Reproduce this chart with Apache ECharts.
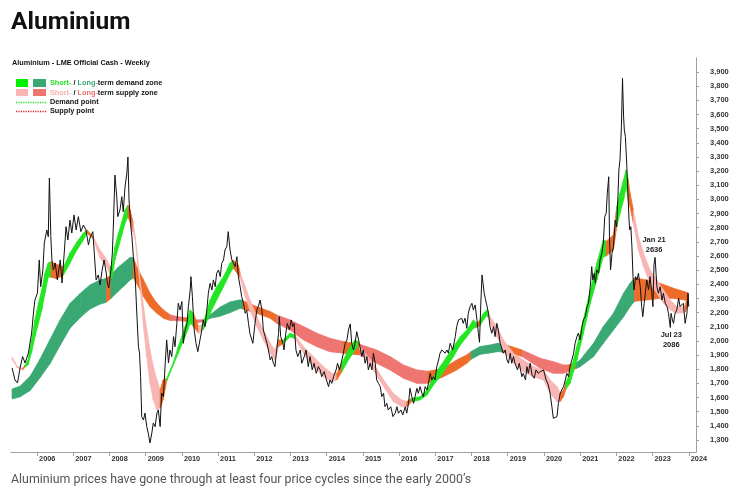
<!DOCTYPE html>
<html>
<head>
<meta charset="utf-8">
<script src="https://cdn.jsdelivr.net/npm/echarts@6.0.0/dist/echarts.min.js"></script>
<style>
  html, body { margin: 0; padding: 0; background: #fff; }
  #chart { width: 735px; height: 494px; }
</style>
</head>
<body>
<div id="chart"></div>
<script>
// tick labels
var yearTicks = [2006, 2007, 2008, 2009, 2010, 2011, 2012, 2013, 2014, 2015, 2016, 2017, 2018, 2019, 2020, 2021, 2022, 2023, 2024];
var priceTicks = [1300, 1400, 1500, 1600, 1700, 1800, 1900, 2000, 2100, 2200, 2300, 2400, 2500, 2600, 2700, 2800, 2900, 3000, 3100, 3200, 3300, 3400, 3500, 3600, 3700, 3800, 3900];

// weekly cash price
var priceDates = [2005.31, 2005.39, 2005.46, 2005.53, 2005.60, 2005.67, 2005.76, 2005.85, 2005.90, 2005.94,
  2006.01, 2006.06, 2006.10, 2006.16, 2006.20, 2006.27, 2006.31, 2006.34, 2006.38, 2006.41, 2006.45, 2006.50, 2006.56, 2006.64, 2006.69, 2006.75, 2006.80, 2006.85, 2006.91, 2006.96,
  2007.02, 2007.08, 2007.14, 2007.21, 2007.28, 2007.35, 2007.42, 2007.46, 2007.54, 2007.58, 2007.63, 2007.69, 2007.74, 2007.79, 2007.85, 2007.91, 2007.94, 2007.98,
  2008.04, 2008.08, 2008.11, 2008.15, 2008.20, 2008.23, 2008.29, 2008.34, 2008.38, 2008.43, 2008.48, 2008.51, 2008.54, 2008.59, 2008.62, 2008.66, 2008.71, 2008.75, 2008.80, 2008.83, 2008.86, 2008.89, 2008.94, 2008.98,
  2009.03, 2009.07, 2009.12, 2009.17, 2009.21, 2009.26, 2009.31, 2009.35, 2009.40, 2009.44, 2009.49, 2009.54, 2009.58, 2009.63, 2009.67, 2009.72, 2009.77, 2009.81, 2009.86, 2009.90, 2009.95,
  2010.00, 2010.04, 2010.09, 2010.14, 2010.18, 2010.23, 2010.25, 2010.29, 2010.34, 2010.39, 2010.44, 2010.50, 2010.55, 2010.59, 2010.64, 2010.69, 2010.73, 2010.78, 2010.83, 2010.87, 2010.92, 2010.96,
  2011.01, 2011.06, 2011.10, 2011.15, 2011.19, 2011.24, 2011.28, 2011.33, 2011.38, 2011.42, 2011.47, 2011.52, 2011.56, 2011.61, 2011.65, 2011.70, 2011.75, 2011.79, 2011.84, 2011.88, 2011.96,
  2012.02, 2012.07, 2012.11, 2012.16, 2012.21, 2012.25, 2012.30, 2012.35, 2012.39, 2012.44, 2012.48, 2012.53, 2012.57, 2012.62, 2012.67, 2012.69, 2012.73, 2012.79, 2012.82, 2012.87, 2012.91, 2012.97,
  2013.02, 2013.06, 2013.10, 2013.15, 2013.20, 2013.27, 2013.31, 2013.38, 2013.43, 2013.49, 2013.54, 2013.60, 2013.65, 2013.71, 2013.77, 2013.82, 2013.86, 2013.93, 2013.98,
  2014.05, 2014.09, 2014.14, 2014.19, 2014.26, 2014.30, 2014.35, 2014.40, 2014.46, 2014.51, 2014.56, 2014.60, 2014.65, 2014.69, 2014.74, 2014.78, 2014.83, 2014.88, 2014.92, 2014.97,
  2015.01, 2015.06, 2015.11, 2015.15, 2015.20, 2015.25, 2015.29, 2015.34, 2015.38, 2015.43, 2015.48, 2015.52, 2015.57, 2015.61, 2015.66, 2015.70, 2015.77, 2015.83, 2015.89, 2015.94, 2015.98,
  2016.05, 2016.10, 2016.17, 2016.21, 2016.26, 2016.30, 2016.35, 2016.40, 2016.44, 2016.49, 2016.53, 2016.58, 2016.63, 2016.67, 2016.72, 2016.77, 2016.81, 2016.86, 2016.90, 2016.95, 2016.99,
  2017.04, 2017.09, 2017.13, 2017.18, 2017.22, 2017.27, 2017.32, 2017.36, 2017.41, 2017.48, 2017.55, 2017.59, 2017.64, 2017.73, 2017.77, 2017.82, 2017.87, 2017.91, 2017.96,
  2018.01, 2018.05, 2018.10, 2018.15, 2018.19, 2018.22, 2018.26, 2018.29, 2018.35, 2018.38, 2018.42, 2018.47, 2018.51, 2018.56, 2018.61, 2018.65, 2018.70, 2018.74, 2018.79, 2018.84, 2018.88, 2018.93, 2018.98,
  2019.02, 2019.07, 2019.11, 2019.16, 2019.20, 2019.27, 2019.32, 2019.39, 2019.43, 2019.49, 2019.53, 2019.57, 2019.62, 2019.67, 2019.73, 2019.78, 2019.84, 2019.90, 2019.94, 2019.99,
  2020.06, 2020.12, 2020.17, 2020.22, 2020.26, 2020.31, 2020.36, 2020.40, 2020.45, 2020.49, 2020.54, 2020.59, 2020.63, 2020.68, 2020.72, 2020.77, 2020.82, 2020.86, 2020.91, 2020.95,
  2021.00, 2021.05, 2021.09, 2021.14, 2021.19, 2021.23, 2021.28, 2021.32, 2021.35, 2021.39, 2021.42, 2021.46, 2021.51, 2021.55, 2021.60, 2021.64, 2021.68, 2021.72, 2021.75, 2021.79, 2021.81, 2021.84, 2021.88, 2021.92, 2021.97,
  2022.01, 2022.04, 2022.07, 2022.10, 2022.14, 2022.17, 2022.20, 2022.22, 2022.25, 2022.29, 2022.32, 2022.35, 2022.37, 2022.40, 2022.43, 2022.46, 2022.49, 2022.53, 2022.57, 2022.61, 2022.66, 2022.70, 2022.73, 2022.77, 2022.80, 2022.84, 2022.89, 2022.93, 2022.98,
  2023.01, 2023.04, 2023.07, 2023.12, 2023.16, 2023.21, 2023.26, 2023.30, 2023.35, 2023.40, 2023.44, 2023.49, 2023.51, 2023.55, 2023.58, 2023.62, 2023.67, 2023.72, 2023.76, 2023.81, 2023.85, 2023.90, 2023.95, 2023.98, 2024.00];
var priceValues = [1809, 1724, 1703, 1809, 1889, 1844, 1914, 2056, 2197, 2289,
  2338, 2572, 2383, 2501, 2692, 2784, 2736, 3151, 2736, 2572, 2501, 2551, 2431, 2572, 2409, 2621, 2807, 2713, 2854, 2762,
  2890, 2784, 2878, 2772, 2819, 2784, 2678, 2727, 2772, 2621, 2431, 2466, 2395, 2489, 2572, 2480, 2409, 2374,
  2501, 2621, 2833, 3172, 3019, 2878, 2925, 3019, 2913, 3090, 3184, 3299, 2996, 2807, 2736, 2595, 2454, 2219, 1959, 1914, 1747, 1465, 1441, 1490,
  1394, 1350, 1279, 1350, 1420, 1394, 1490, 1512, 1394, 1632, 1606, 1844, 2007, 1844, 1936, 1889, 2030, 1959, 2124, 2266, 2219,
  2278, 1983, 2077, 2124, 2242, 2360, 2454, 2313, 2077, 1983, 1924, 2007, 2077, 2148, 2101, 2219, 2337, 2407, 2360, 2431, 2383, 2478,
  2501, 2454, 2548, 2572, 2642, 2666, 2772, 2642, 2572, 2572, 2525, 2595, 2454, 2383, 2313, 2266, 2195, 2219, 2124, 2050, 1983,
  2124, 2219, 2242, 2289, 2219, 2077, 2030, 1983, 1936, 1865, 1889, 1842, 1818, 1936, 2054, 2171, 2030, 1983, 1936, 2054, 2124, 2077,
  2148, 2101, 2124, 1936, 1889, 1936, 1842, 1889, 1936, 1818, 1889, 1795, 1842, 1771, 1818, 1795, 1747, 1783, 1736,
  1677, 1724, 1700, 1747, 1795, 1842, 1795, 1842, 1913, 1983, 2007, 2077, 2120, 1983, 1936, 1983, 2065, 2077, 1959, 1889,
  1936, 1842, 1889, 1795, 1842, 1795, 1913, 1842, 1724, 1700, 1677, 1606, 1630, 1535, 1559, 1512, 1535, 1465, 1489, 1535, 1489,
  1512, 1477, 1535, 1489, 1559, 1665, 1606, 1559, 1606, 1665, 1630, 1677, 1630, 1606, 1677, 1653, 1700, 1771, 1724, 1747, 1724,
  1818, 1865, 1913, 1936, 1948, 1913, 1936, 1913, 1983, 1936, 2030, 2101, 2148, 2160, 2124, 2160, 2089, 2195, 2242,
  2266, 2219, 2254, 2148, 2054, 1990, 2289, 2466, 2337, 2301, 2289, 2195, 2101, 2054, 2101, 2030, 2124, 2077, 1983, 1971, 1913, 1936, 1865,
  1842, 1913, 1842, 1889, 1842, 1795, 1842, 1747, 1771, 1724, 1818, 1771, 1842, 1759, 1736, 1795, 1771, 1783, 1771, 1795,
  1724, 1689, 1630, 1535, 1453, 1441, 1465, 1559, 1630, 1653, 1677, 1724, 1771, 1747, 1818, 1865, 1913, 1983, 2030, 2054,
  2007, 2101, 2148, 2171, 2242, 2266, 2383, 2525, 2431, 2478, 2407, 2501, 2478, 2572, 2619, 2689, 2878, 2902, 3043, 3160, 2736, 2501, 2619, 2666, 2854,
  2807, 2996, 3208, 3278, 3514, 3855, 3584, 3490, 3443, 3231, 3043, 2854, 2784, 2807, 2666, 2454, 2360, 2454, 2431, 2478, 2383, 2242, 2171, 2266, 2337, 2431, 2360, 2454, 2337,
  2242, 2540, 2590, 2383, 2337, 2383, 2289, 2337, 2266, 2242, 2195, 2095, 2195, 2148, 2124, 2195, 2219, 2301, 2242, 2230, 2266, 2124, 2195, 2337, 2242];

// short-term zone (sd demand, ss supply, tr transition)
var shortDates = [2005.31, 2005.45, 2005.60, 2005.67, 2005.75, 2005.85, 2005.94, 2006.04, 2006.13, 2006.22, 2006.31, 2006.39, 2006.55, 2006.73, 2006.91,
  2007.10, 2007.28, 2007.38, 2007.55, 2007.74, 2007.93, 2008.02, 2008.07, 2008.15, 2008.25, 2008.34, 2008.43, 2008.51, 2008.57, 2008.65, 2008.71, 2008.85, 2008.94,
  2009.03, 2009.12, 2009.21, 2009.31, 2009.40, 2009.48, 2009.58, 2009.77, 2009.90, 2010.09, 2010.23, 2010.32, 2010.46, 2010.59, 2010.78, 2010.96,
  2011.15, 2011.33, 2011.42, 2011.56, 2011.61, 2011.75, 2011.88, 2012.07, 2012.25, 2012.44, 2012.57, 2012.67, 2012.80, 2012.99,
  2013.13, 2013.36, 2013.63, 2013.91, 2014.14, 2014.28, 2014.42, 2014.60, 2014.78, 2014.87, 2014.91, 2015.29, 2015.57, 2015.84,
  2016.07, 2016.21, 2016.35, 2016.58, 2016.77, 2016.95, 2017.13, 2017.32, 2017.50, 2017.69, 2017.87, 2018.05, 2018.15, 2018.24, 2018.33, 2018.42, 2018.47, 2018.51, 2018.70, 2018.88,
  2019.16, 2019.43, 2019.71, 2019.99, 2020.17, 2020.36, 2020.45, 2020.54, 2020.61, 2020.72, 2020.91, 2021.09, 2021.28, 2021.46, 2021.64, 2021.72, 2021.92,
  2022.01, 2022.10, 2022.20, 2022.27, 2022.33, 2022.38, 2022.47, 2022.61, 2022.75, 2022.93, 2023.12, 2023.30, 2023.49, 2023.67, 2023.85, 2023.90, 2023.98];
var shortLow = [1870, 1812, 1795, 1815, 1830, 1922, 2028, 2127, 2219, 2339, 2452, 2450, 2440, 2466, 2551,
  2642, 2713, 2762, 2720, 2586, 2522, 2466, 2445, 2572, 2664, 2748, 2833, 2876, 2840, 2770, 2720, 2380, 2101,
  1889, 1700, 1583, 1512, 1526, 1583, 1715, 1835, 1913, 2030, 2124, 2101, 2054, 2077, 2195, 2289,
  2383, 2478, 2515, 2466, 2444, 2313, 2219, 2101, 2007, 1913, 1865, 1959, 1983, 2030,
  2015, 1913, 1818, 1747, 1712, 1724, 1783, 1865, 1936, 1959, 1940, 1795, 1677, 1571,
  1535, 1535, 1571, 1583, 1618, 1689, 1747, 1818, 1889, 1971, 2030, 2089, 2096, 2110, 2148, 2180, 2160, 2124, 2030, 1936,
  1842, 1783, 1747, 1724, 1630, 1571, 1571, 1606, 1660, 1700, 1865, 2054, 2266, 2431, 2595, 2600, 2642,
  2807, 2902, 2996, 3090, 2996, 2948, 2831, 2642, 2525, 2407, 2337, 2266, 2219, 2195, 2200, 2205, 2250];
var shortHigh = [1885, 1822, 1805, 1830, 1865, 2007, 2148, 2268, 2360, 2480, 2551, 2560, 2540, 2522, 2621,
  2699, 2762, 2784, 2736, 2642, 2572, 2522, 2536, 2664, 2762, 2840, 2925, 2960, 2925, 2840, 2736, 2420, 2242,
  2077, 1936, 1818, 1724, 1653, 1724, 1735, 1852, 1959, 2101, 2219, 2195, 2101, 2124, 2289, 2383,
  2454, 2548, 2572, 2536, 2478, 2383, 2289, 2171, 2077, 1983, 1936, 2007, 2007, 2054,
  2040, 1959, 1889, 1818, 1771, 1771, 1842, 1936, 2007, 1995, 1960, 1842, 1724, 1630,
  1583, 1571, 1595, 1606, 1653, 1747, 1818, 1889, 1959, 2030, 2077, 2148, 2124, 2150, 2195, 2219, 2200, 2171, 2101, 2007,
  1913, 1865, 1818, 1795, 1724, 1677, 1630, 1653, 1710, 1771, 1959, 2148, 2360, 2548, 2713, 2705, 2748,
  2948, 3043, 3137, 3208, 3137, 3043, 2925, 2736, 2619, 2501, 2431, 2360, 2289, 2242, 2240, 2250, 2330];
var shortZone = ['ss', 'ss', 'tr', 'sd', 'sd', 'sd', 'sd', 'sd', 'sd', 'sd', 'sd', 'tr', 'tr', 'sd', 'sd',
  'sd', 'sd', 'tr', 'ss', 'ss', 'ss', 'sd', 'sd', 'sd', 'sd', 'sd', 'sd', 'tr', 'tr', 'ss', 'ss', 'ss', 'ss',
  'ss', 'ss', 'ss', 'ss', 'tr', 'tr', 'sd', 'sd', 'sd', 'sd', 'sd', 'tr', 'ss', 'sd', 'sd', 'sd',
  'sd', 'sd', 'tr', 'tr', 'ss', 'ss', 'ss', 'ss', 'ss', 'ss', 'ss', 'tr', 'sd', 'sd',
  'ss', 'ss', 'ss', 'ss', 'ss', 'tr', 'sd', 'sd', 'sd', 'tr', 'ss', 'ss', 'ss', 'ss',
  'ss', 'tr', 'sd', 'sd', 'sd', 'sd', 'sd', 'sd', 'sd', 'sd', 'sd', 'sd', 'tr', 'sd', 'sd', 'sd', 'ss', 'ss', 'ss', 'ss',
  'ss', 'ss', 'ss', 'ss', 'ss', 'ss', 'tr', 'tr', 'sd', 'sd', 'sd', 'sd', 'sd', 'sd', 'sd', 'tr', 'tr',
  'sd', 'sd', 'sd', 'sd', 'tr', 'tr', 'ss', 'ss', 'ss', 'ss', 'ss', 'ss', 'ss', 'ss', 'ss', 'tr', 'tr'];

// long-term zone (ld demand, ls supply, tr transition)
var longDates = [2005.31, 2005.53, 2005.81, 2006.08, 2006.36, 2006.64, 2006.91, 2007.19, 2007.46, 2007.74, 2007.88, 2007.92, 2008.04, 2008.24, 2008.43, 2008.57, 2008.66, 2008.75, 2008.94,
  2009.12, 2009.31, 2009.49, 2009.67, 2009.86, 2010.04, 2010.23, 2010.41, 2010.59, 2010.78, 2011.06, 2011.33, 2011.61, 2011.69, 2012.07, 2012.44, 2012.62, 2012.99,
  2013.36, 2013.73, 2014.09, 2014.46, 2014.92, 2015.38, 2015.75, 2016.12, 2016.49, 2016.80, 2017.22, 2017.59, 2017.87, 2017.99, 2018.24, 2018.51, 2018.73, 2018.87,
  2019.25, 2019.40, 2019.90, 2020.26, 2020.54, 2020.67, 2020.89, 2021.00, 2021.37, 2021.64, 2021.92, 2022.20, 2022.38, 2022.50, 2022.84, 2023.21, 2023.58, 2023.98];
var longLow = [1590, 1605, 1650, 1740, 1840, 1970, 2090, 2165, 2225, 2260, 2270, 2275, 2300, 2350, 2395, 2430, 2445, 2407, 2313,
  2242, 2195, 2160, 2145, 2145, 2140, 2135, 2130, 2135, 2160, 2175, 2200, 2230, 2225, 2195, 2160, 2124, 2077,
  2007, 1959, 1924, 1913, 1901, 1842, 1795, 1736, 1700, 1700, 1747, 1795, 1842, 1870, 1905, 1915, 1925, 1920,
  1901, 1890, 1806, 1771, 1771, 1783, 1805, 1818, 1889, 1983, 2077, 2171, 2242, 2280, 2289, 2301, 2301, 2285];
var longHigh = [1660, 1680, 1750, 1870, 2010, 2150, 2265, 2335, 2395, 2430, 2440, 2445, 2465, 2520, 2560, 2590, 2590, 2525, 2431,
  2337, 2266, 2219, 2185, 2172, 2165, 2160, 2148, 2150, 2185, 2240, 2275, 2290, 2283, 2242, 2207, 2183, 2148,
  2101, 2054, 2018, 1995, 1975, 1936, 1889, 1830, 1795, 1785, 1806, 1865, 1901, 1925, 1960, 1971, 1983, 1978,
  1948, 1935, 1877, 1853, 1830, 1830, 1845, 1865, 1983, 2101, 2195, 2337, 2407, 2445, 2431, 2407, 2372, 2340];
var longZone = ['ld', 'ld', 'ld', 'ld', 'ld', 'ld', 'ld', 'ld', 'ld', 'ld', 'ld', 'tr', 'ld', 'ld', 'ld', 'ld', 'tr', 'tr', 'tr',
  'tr', 'tr', 'tr', 'ls', 'ls', 'tr', 'tr', 'ls', 'ld', 'ld', 'ld', 'ld', 'ld', 'tr', 'tr', 'tr', 'ls', 'ls',
  'ls', 'ls', 'ls', 'tr', 'ls', 'ls', 'ls', 'ls', 'ls', 'tr', 'tr', 'tr', 'tr', 'ld', 'ld', 'ld', 'ld', 'tr',
  'tr', 'ls', 'ls', 'ls', 'ls', 'tr', 'ld', 'ld', 'ld', 'ld', 'ld', 'ld', 'ld', 'tr', 'tr', 'tr', 'tr', 'tr'];

// annotated points
var noteDates = [2023.07, 2023.49];
var noteValues = [2590, 2095];
var noteLabels = ['Jan 21\n2636', 'Jul 23\n2086'];

var zoneColor = {
  sd: '#22e622',
  ss: '#f7b6b4',
  ld: '#3aa873',
  ls: '#ef7571',
  tr: '#ee6c2a'
};

var labelFont = '"Liberation Sans", Arial, sans-serif';

function bandRenderer(dates, low, high, zone) {
  return function (params, api) {
    var i = params.dataIndex;
    if (i >= dates.length - 1) return null;
    var a = api.coord([dates[i], low[i]]);
    var b = api.coord([dates[i + 1], low[i + 1]]);
    var c = api.coord([dates[i + 1], high[i + 1]]);
    var d = api.coord([dates[i], high[i]]);
    var col = zoneColor[zone[i]];
    return {
      type: 'polygon',
      shape: { points: [a, b, c, d] },
      style: { fill: col, stroke: col, lineWidth: 0.8 }
    };
  };
}

function bandData(dates, low, high) {
  return dates.map(function (d, i) { return [d, low[i], high[i]]; });
}

var myChart = echarts.init(document.getElementById('chart'), null, { renderer: 'canvas' });

var option = {
  animation: false,
  backgroundColor: '#fff',
  grid: { left: 11, right: 39, top: 57.85, bottom: 42 },
  xAxis: {
    type: 'value',
    min: 2005.28,
    max: 2024.2,
    axisLine: { show: true, lineStyle: { color: '#a0a0a0', width: 1 } },
    axisTick: { show: true, customValues: yearTicks, length: 4, lineStyle: { color: '#a0a0a0' } },
    axisLabel: {
      customValues: yearTicks,
      formatter: function (v) { return String(v); },
      fontSize: 7.3,
      fontWeight: 'bold',
      fontFamily: labelFont,
      color: '#333',
      align: 'left',
      margin: 3,
      padding: [0, 0, 0, 2]
    },
    splitLine: { show: false }
  },
  yAxis: {
    type: 'value',
    position: 'right',
    min: 1215,
    max: 4000,
    axisLine: { show: true, lineStyle: { color: '#a0a0a0', width: 1 } },
    axisTick: { show: true, customValues: priceTicks, length: 3, lineStyle: { color: '#a0a0a0' } },
    axisLabel: {
      customValues: priceTicks,
      formatter: function (v) { return v.toLocaleString('en-US'); },
      fontSize: 7.5,
      fontWeight: 'bold',
      fontFamily: labelFont,
      color: '#333',
      margin: 14
    },
    splitLine: { show: false }
  },
  series: [
    {
      name: 'long',
      type: 'custom',
      renderItem: bandRenderer(longDates, longLow, longHigh, longZone),
      data: bandData(longDates, longLow, longHigh),
      encode: { x: 0, y: [1, 2] },
      clip: true,
      z: 1
    },
    {
      name: 'short',
      type: 'custom',
      renderItem: bandRenderer(shortDates, shortLow, shortHigh, shortZone),
      data: bandData(shortDates, shortLow, shortHigh),
      encode: { x: 0, y: [1, 2] },
      clip: true,
      z: 2
    },
    {
      name: 'price',
      type: 'line',
      data: priceDates.map(function (d, i) { return [d, priceValues[i]]; }),
      symbol: 'none',
      lineStyle: { color: '#111', width: 1 },
      z: 3,
      markPoint: {
        symbol: 'circle',
        symbolSize: 1,
        itemStyle: { color: 'rgba(0,0,0,0)' },
        label: {
          show: true,
          fontSize: 7.5,
          fontWeight: 'bold',
          fontFamily: labelFont,
          color: '#222',
          lineHeight: 10,
          align: 'center'
        },
        data: [
          { coord: [noteDates[0], noteValues[0]], value: noteLabels[0], label: { formatter: noteLabels[0], offset: [-1, -12] } },
          { coord: [noteDates[1], noteValues[1]], value: noteLabels[1], label: { formatter: noteLabels[1], offset: [1, 12] } }
        ]
      }
    }
  ],
  graphic: [
    { type: 'text', left: 11, top: 10, style: { text: 'Aluminium', font: 'bold 24.5px Roboto, sans-serif', fill: '#111' } },
    { type: 'text', left: 12, top: 59.5, style: { text: 'Aluminium - LME Official Cash - Weekly', font: 'bold 7.3px ' + labelFont, fill: '#111' } },
    // legend
    { type: 'rect', shape: { x: 16, y: 79, width: 12, height: 8 }, style: { fill: '#00f000' } },
    { type: 'rect', shape: { x: 33, y: 79, width: 13, height: 8 }, style: { fill: '#3aa873' } },
    { type: 'rect', shape: { x: 16, y: 89, width: 12, height: 7 }, style: { fill: '#f7b6b4' } },
    { type: 'rect', shape: { x: 33, y: 89, width: 13, height: 7 }, style: { fill: '#ef7571' } },
    { type: 'line', shape: { x1: 16, y1: 102.5, x2: 46, y2: 102.5 }, style: { stroke: '#22dd22', lineWidth: 1.6, lineDash: [1.2, 1.2] } },
    { type: 'line', shape: { x1: 16, y1: 111.5, x2: 46, y2: 111.5 }, style: { stroke: '#dd2222', lineWidth: 1.6, lineDash: [1.2, 1.2] } },
    {
      type: 'text', left: 50, top: 79.5,
      style: {
        text: '{g|Short-} / {d|Long-}term demand zone',
        font: 'bold 7.3px ' + labelFont, fill: '#111',
        rich: { g: { fill: '#22dd22', font: 'bold 7.3px ' + labelFont }, d: { fill: '#3aa873', font: 'bold 7.3px ' + labelFont } }
      }
    },
    {
      type: 'text', left: 50, top: 89,
      style: {
        text: '{p|Short-} / {r|Long-}term supply zone',
        font: 'bold 7.3px ' + labelFont, fill: '#111',
        rich: { p: { fill: '#f5b0b0', font: 'bold 7.3px ' + labelFont }, r: { fill: '#ef6f6b', font: 'bold 7.3px ' + labelFont } }
      }
    },
    { type: 'text', left: 50, top: 98.5, style: { text: 'Demand point', font: 'bold 7.3px ' + labelFont, fill: '#111' } },
    { type: 'text', left: 50, top: 107.5, style: { text: 'Supply point', font: 'bold 7.3px ' + labelFont, fill: '#111' } },
    // caption
    { type: 'text', left: 11, top: 474, style: { text: 'Aluminium prices have gone through at least four price cycles since the early 2000\u2019s', font: '12.4px Roboto, sans-serif', fill: '#555' } }
  ]
};

myChart.setOption(option, true);
window.addEventListener('resize', function () {
  myChart.resize();
});
</script>
</body>
</html>
